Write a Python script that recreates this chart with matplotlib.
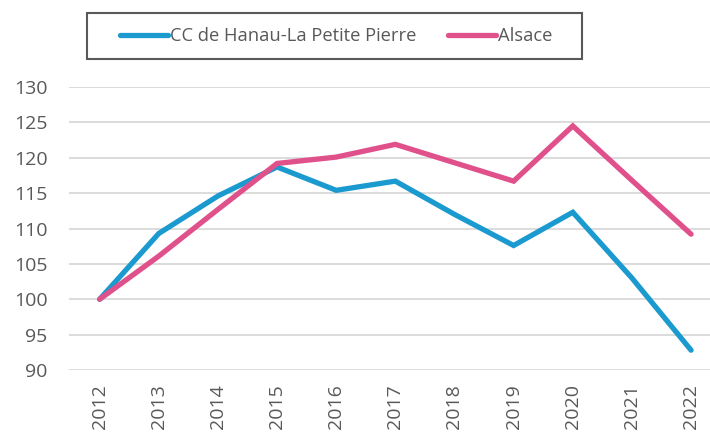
import matplotlib
matplotlib.use("Agg")
import matplotlib.pyplot as plt
from matplotlib.patches import Rectangle

# Indice base 100 en 2012
years = ["2012", "2013", "2014", "2015", "2016", "2017", "2018", "2019", "2020", "2021", "2022"]
hanau = [100.0, 109.3, 114.6, 118.7, 115.4, 116.7, 112.0, 107.6, 112.3, 103.0, 92.8]
alsace = [100.0, 106.1, 112.7, 119.2, 120.1, 121.9, 119.3, 116.7, 124.5, 116.8, 109.2]
yticks = [90, 95, 100, 105, 110, 115, 120, 125, 130]

plt.rcParams['font.family'] = ['Open Sans', 'DejaVu Sans']

fig = plt.figure(figsize=(7.1, 4.32), dpi=100)
ax = fig.add_axes([0.097, 0.1435, 0.903, 0.655])

x = range(len(years))
l1, = ax.plot(x, hanau, color='#1B9AD0', linewidth=3.8, solid_capstyle='round', solid_joinstyle='miter')
l2, = ax.plot(x, alsace, color='#E0508A', linewidth=3.8, solid_capstyle='round', solid_joinstyle='miter')

ax.set_ylim(90, 130)
ax.set_xlim(-0.52, 10.32)
ax.set_yticks(yticks)
ax.set_xticks(list(x))
ax.set_xticklabels(years, rotation=90)
ax.grid(axis='y', color='#D9D9D9', linewidth=1.3)
ax.set_axisbelow(True)
for s in ax.spines.values():
    s.set_visible(False)
ax.tick_params(length=0, labelsize=14, colors='#595959')
ax.tick_params(axis='y', pad=15.5)
ax.tick_params(axis='x', pad=10)

# cadre de la légende, dessiné à part
fig.patches.append(Rectangle((87 / 710, 1 - 59 / 432), 495 / 710, 46 / 432,
                             transform=fig.transFigure, fill=False,
                             edgecolor='#595959', linewidth=1.5))

leg = fig.legend([l1, l2], ["CC de Hanau-La Petite Pierre", "Alsace"],
                 loc='center', bbox_to_anchor=(336 / 710, 1 - 36 / 432), ncol=2,
                 fontsize=13.2, frameon=False,
                 handlelength=2.6, handletextpad=0.1, columnspacing=1.75,
                 borderpad=0.0)
for t in leg.get_texts():
    t.set_color('#595959')

fig.savefig("out.png", dpi=100)
